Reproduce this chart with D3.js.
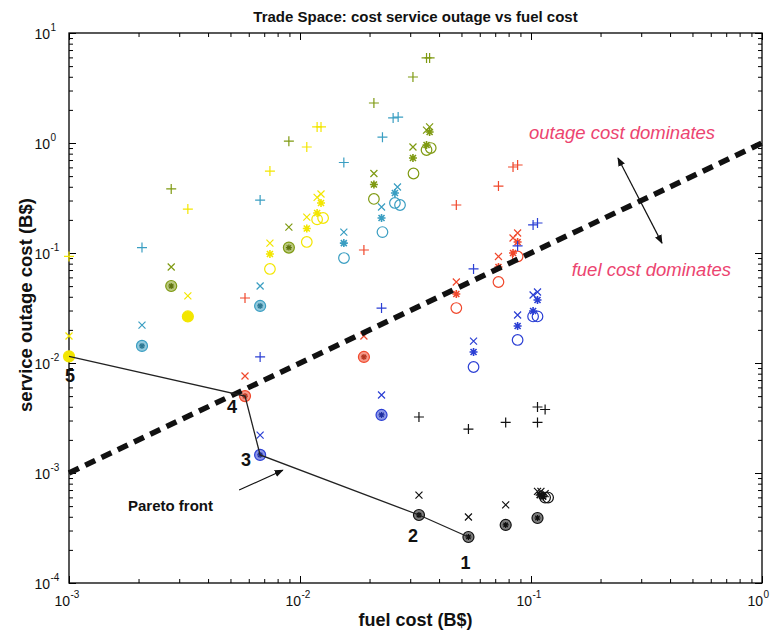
<!DOCTYPE html>
<html>
<head>
<meta charset="utf-8">
<script src="https://cdn.jsdelivr.net/npm/d3@7"></script>
<style>
  body { margin: 0; background: #fff; }
  text { font-family: "Liberation Sans", Arial, Helvetica, sans-serif; }
</style>
</head>
<body>
<svg id="chart" width="777" height="630"></svg>
<script>
// ---- axis decades (exponents of 10) ----
const xTickExps = [-3, -2, -1, 0];
const yTickExps = [-4, -3, -2, -1, 0, 1];

// ---- design points: [fuel cost (B$), service outage cost (B$)] ----
// yellow designs
const yellowPlus    = [[0.001, 0.093], [0.00327, 0.251], [0.00741, 0.556], [0.0107, 0.92], [0.01186, 1.40], [0.01233, 1.40]];
const yellowCross   = [[0.001, 0.0176], [0.00327, 0.0407], [0.00741, 0.123], [0.0107, 0.212], [0.01186, 0.32], [0.01233, 0.344]];
const yellowStar    = [[0.00741, 0.098], [0.0107, 0.167], [0.01186, 0.231], [0.01233, 0.285]];
const yellowCircle  = [[0.00741, 0.0716], [0.0107, 0.126], [0.01186, 0.202], [0.01259, 0.208]];
const yellowDot     = [[0.001, 0.0115], [0.00327, 0.0265]];

// olive designs
const olivePlus     = [[0.00277, 0.382], [0.00895, 1.04], [0.02089, 2.31], [0.03083, 3.98], [0.0353, 5.93], [0.0364, 5.93]];
const oliveCross    = [[0.00277, 0.0746], [0.00895, 0.172], [0.02089, 0.528], [0.03083, 0.92], [0.0353, 1.31], [0.0364, 1.40]];
const oliveStar     = [[0.02089, 0.42], [0.03083, 0.731], [0.0353, 0.959], [0.0364, 1.26]];
const oliveCircle   = [[0.02089, 0.31], [0.031, 0.528], [0.0353, 0.864], [0.0368, 0.90]];
const oliveDot      = [[0.00277, 0.0501], [0.00895, 0.112]];

// cyan designs
const cyanPlus      = [[0.00207, 0.112], [0.00672, 0.303], [0.01548, 0.665], [0.02275, 1.13], [0.0253, 1.69], [0.0266, 1.72]];
const cyanCross     = [[0.00207, 0.0221], [0.00672, 0.0501], [0.01548, 0.155], [0.02254, 0.262], [0.02642, 0.398]];
const cyanStar      = [[0.01548, 0.123], [0.02254, 0.208], [0.02576, 0.351]];
const cyanCircle    = [[0.0155, 0.090], [0.02275, 0.155], [0.02576, 0.285], [0.0271, 0.273]];
const cyanDot       = [[0.00207, 0.0143], [0.00672, 0.033]];

// red designs
const redPlus       = [[0.00578, 0.039], [0.01891, 0.1065], [0.0475, 0.273], [0.0723, 0.406], [0.0836, 0.605], [0.0875, 0.631]];
const redCross      = [[0.00578, 0.00762], [0.01891, 0.0176], [0.0475, 0.0545], [0.0723, 0.093], [0.0836, 0.137], [0.0875, 0.152]];
const redStar       = [[0.0475, 0.0424], [0.0723, 0.0746], [0.0836, 0.1], [0.0875, 0.126]];
const redCircle     = [[0.0475, 0.0316], [0.0723, 0.0545], [0.0875, 0.093]];
const redDot        = [[0.00578, 0.005], [0.01891, 0.01135]];

// blue designs
const bluePlus      = [[0.00672, 0.01135], [0.02254, 0.0316], [0.0564, 0.0716], [0.0875, 0.116], [0.1021, 0.18], [0.1067, 0.1874]];
const blueCross     = [[0.00672, 0.00221], [0.02254, 0.00512], [0.0564, 0.0158], [0.0875, 0.0273], [0.1021, 0.0415], [0.1067, 0.0442]];
const blueStar      = [[0.0564, 0.0126], [0.0875, 0.0217], [0.1021, 0.0297], [0.1067, 0.0374]];
const blueCircle    = [[0.0564, 0.0092], [0.0875, 0.0162], [0.1021, 0.0265], [0.1067, 0.0265]];
const blueDot       = [[0.00672, 0.00146], [0.02254, 0.00337]];

// black designs
const blackPlus     = [[0.03273, 0.00323], [0.0536, 0.00251], [0.0777, 0.00288], [0.1067, 0.00288], [0.1067, 0.00398], [0.1151, 0.00378]];
const blackCross    = [[0.03273, 0.00063], [0.0536, 0.000398], [0.0777, 0.000513], [0.1067, 0.00068], [0.1104, 0.00068], [0.1151, 0.00065]];
const blackStar     = [[0.109, 0.00063], [0.113, 0.00061]];
const blackCircle   = [[0.1151, 0.000598], [0.1186, 0.000598]];
const blackDot      = [[0.03273, 0.000415], [0.0536, 0.000262], [0.0777, 0.000337], [0.1067, 0.00039]];

// Pareto front, numbered from the cheapest outage (1) to the cheapest fuel (5)
const paretoFront  = [[0.001, 0.0115], [0.00578, 0.005], [0.00672, 0.00146], [0.03273, 0.000415], [0.0536, 0.000262]];
const paretoLabels = ["5", "4", "3", "2", "1"];

// break-even line: outage cost equals fuel cost
const breakEven = [[0.001, 0.001], [1, 1]];

// ---- styling ----
const palette = {
  yellow: "#f3e600",
  olive:  "#7f9a12",
  cyan:   "#3a9ec2",
  red:    "#f0482c",
  blue:   "#2b3fd4",
  black:  "#111111"
};
const groups = [
  ["yellow", yellowPlus, yellowCross, yellowStar, yellowCircle, yellowDot],
  ["olive",  olivePlus,  oliveCross,  oliveStar,  oliveCircle,  oliveDot],
  ["cyan",   cyanPlus,   cyanCross,   cyanStar,   cyanCircle,   cyanDot],
  ["red",    redPlus,    redCross,    redStar,    redCircle,    redDot],
  ["blue",   bluePlus,   blueCross,   blueStar,   blueCircle,   blueDot],
  ["black",  blackPlus,  blackCross,  blackStar,  blackCircle,  blackDot]
];
const markerKinds = ["plus", "cross", "star", "circle", "dot"];

const svg = d3.select("#chart");
const plotLeft = 69, plotRight = 762, plotTop = 33, plotBottom = 583;

const x = d3.scaleLog().domain([1e-3, 1]).range([plotLeft, plotRight]);
const y = d3.scaleLog().domain([1e-4, 10]).range([plotBottom, plotTop]);

// ---- ticks (inward on all four sides, majors and minors) ----
function minorsOf(exps) {
  const out = [];
  for (let i = 0; i < exps.length - 1; i++)
    for (let k = 2; k <= 9; k++) out.push(k * Math.pow(10, exps[i]));
  return out;
}
const xMajor = xTickExps.map(e => Math.pow(10, e));
const yMajor = yTickExps.map(e => Math.pow(10, e));
const xMinor = minorsOf(xTickExps);
const yMinor = minorsOf(yTickExps);

function addAxis(gen, tx, ty) {
  const g = svg.append("g").attr("transform", `translate(${tx},${ty})`).call(gen);
  g.select(".domain").remove();
  g.selectAll("line").attr("stroke", "#000").attr("stroke-width", 1);
  g.selectAll("text").remove();
}
[[xMajor, 7], [xMinor, 4]].forEach(([vals, len]) => {
  addAxis(d3.axisBottom(x).tickValues(vals).tickSize(-len).tickFormat(""), 0, plotBottom);
  addAxis(d3.axisTop(x).tickValues(vals).tickSize(-len).tickFormat(""), 0, plotTop);
});
[[yMajor, 7], [yMinor, 4]].forEach(([vals, len]) => {
  addAxis(d3.axisLeft(y).tickValues(vals).tickSize(-len).tickFormat(""), plotLeft, 0);
  addAxis(d3.axisRight(y).tickValues(vals).tickSize(-len).tickFormat(""), plotRight, 0);
});

svg.append("rect")
  .attr("x", plotLeft).attr("y", plotTop)
  .attr("width", plotRight - plotLeft).attr("height", plotBottom - plotTop)
  .attr("fill", "none").attr("stroke", "#000").attr("stroke-width", 1.3);

// ---- tick labels: 10 with superscript exponent ----
xTickExps.forEach(e => {
  const px = x(Math.pow(10, e));
  svg.append("text").attr("x", px + 1).attr("y", 606)
    .attr("text-anchor", "end").attr("font-size", 14).attr("fill", "#111").text("10");
  svg.append("text").attr("x", px + 1.5).attr("y", 598)
    .attr("font-size", 10).attr("fill", "#111").text(e);
});
yTickExps.forEach(e => {
  const py = y(Math.pow(10, e));
  svg.append("text").attr("x", 50).attr("y", py + 6)
    .attr("text-anchor", "end").attr("font-size", 14).attr("fill", "#111").text("10");
  svg.append("text").attr("x", 50.5).attr("y", py - 2)
    .attr("font-size", 10).attr("fill", "#111").text(e);
});

// ---- titles ----
svg.append("text").attr("x", (plotLeft + plotRight) / 2).attr("y", 22)
  .attr("text-anchor", "middle").attr("font-size", 15).attr("font-weight", "bold")
  .attr("fill", "#111").text("Trade Space: cost service outage vs fuel cost");
svg.append("text").attr("x", (plotLeft + plotRight) / 2).attr("y", 626)
  .attr("text-anchor", "middle").attr("font-size", 18).attr("font-weight", "bold")
  .attr("fill", "#111").text("fuel cost (B$)");
svg.append("text")
  .attr("transform", `translate(32,${(plotTop + plotBottom) / 2 - 3}) rotate(-90)`)
  .attr("text-anchor", "middle").attr("font-size", 18.5).attr("font-weight", "bold")
  .attr("fill", "#111").text("service outage cost (B$)");

// ---- markers ----
const plot = svg.append("g");
function drawMarkers(points, kind, color) {
  const g = plot.append("g");
  points.forEach(([fx, fy]) => {
    const cx = x(fx), cy = y(fy);
    const m = g.append("g").attr("transform", `translate(${cx},${cy})`)
      .attr("stroke", color).attr("stroke-width", 1.2).attr("fill", "none");
    if (kind === "plus") {
      m.append("path").attr("d", "M-5,0H5M0,-5V5");
    } else if (kind === "cross") {
      m.append("path").attr("d", "M-3.5,-3.5L3.5,3.5M-3.5,3.5L3.5,-3.5");
    } else if (kind === "star") {
      m.append("path").attr("d", "M-4,0H4M0,-4V4M-3,-3L3,3M-3,3L3,-3").attr("stroke-width", 1.6);
    } else if (kind === "circle") {
      m.append("circle").attr("r", 5.3);
    } else if (kind === "dot") {
      const solid = color === palette.yellow;
      m.append("circle").attr("r", 5.5)
        .attr("fill", color).attr("fill-opacity", solid ? 1 : 0.55);
      if (!solid)
        m.append("path").attr("d", "M-3,0H3M0,-3V3M-2.2,-2.2L2.2,2.2M-2.2,2.2L2.2,-2.2")
          .attr("stroke", d3.color(color).darker(0.8)).attr("stroke-width", 1.2);
    }
  });
}
groups.forEach(([name, ...sets]) => {
  sets.forEach((pts, i) => drawMarkers(pts, markerKinds[i], palette[name]));
});

// ---- break-even dashed line ----
const line = d3.line().x(d => x(d[0])).y(d => y(d[1]));
svg.append("path").datum(breakEven).attr("d", line)
  .attr("stroke", "#111").attr("stroke-width", 5.5)
  .attr("stroke-dasharray", "11,7").attr("fill", "none");

// ---- Pareto front ----
svg.append("path").datum(paretoFront).attr("d", line)
  .attr("stroke", "#222").attr("stroke-width", 1.3).attr("fill", "none");
const labelOffsets = [[1, 26], [-13, 17], [-14, 11], [-6, 27], [-3, 32]];
paretoFront.forEach((p, i) => {
  svg.append("text")
    .attr("x", x(p[0]) + labelOffsets[i][0]).attr("y", y(p[1]) + labelOffsets[i][1])
    .attr("text-anchor", "middle").attr("font-size", 18).attr("font-weight", "bold")
    .attr("fill", "#111").text(paretoLabels[i]);
});

// ---- annotations ----
const defs = svg.append("defs");
defs.append("marker").attr("id", "head").attr("viewBox", "0 0 10 10")
  .attr("refX", 9).attr("refY", 5).attr("markerWidth", 9).attr("markerHeight", 9)
  .attr("markerUnits", "userSpaceOnUse").attr("orient", "auto-start-reverse")
  .append("path").attr("d", "M0,1L10,5L0,9Z").attr("fill", "#111");

const paretoArrow = [[0.00545, 0.0007], [0.00843, 0.00106]];
svg.append("path").datum(paretoArrow).attr("d", line)
  .attr("stroke", "#111").attr("stroke-width", 1.2).attr("fill", "none")
  .attr("marker-end", "url(#head)");
svg.append("text").attr("x", x(0.0018)).attr("y", y(0.000451))
  .attr("font-size", 15).attr("font-weight", "bold").attr("fill", "#111").text("Pareto front");

const dominanceArrow = [[0.238, 0.731], [0.369, 0.123]];
svg.append("path").datum(dominanceArrow).attr("d", line)
  .attr("stroke", "#111").attr("stroke-width", 1.2).attr("fill", "none")
  .attr("marker-start", "url(#head)").attr("marker-end", "url(#head)");

const pink = "#ec4470";
svg.append("text").attr("x", x(0.098)).attr("y", y(1.087))
  .attr("font-size", 18.5).attr("font-style", "italic").attr("fill", pink)
  .text("outage cost dominates");
svg.append("text").attr("x", x(0.150)).attr("y", y(0.0618))
  .attr("font-size", 18.5).attr("font-style", "italic").attr("fill", pink)
  .text("fuel cost dominates");
</script>
</body>
</html>
